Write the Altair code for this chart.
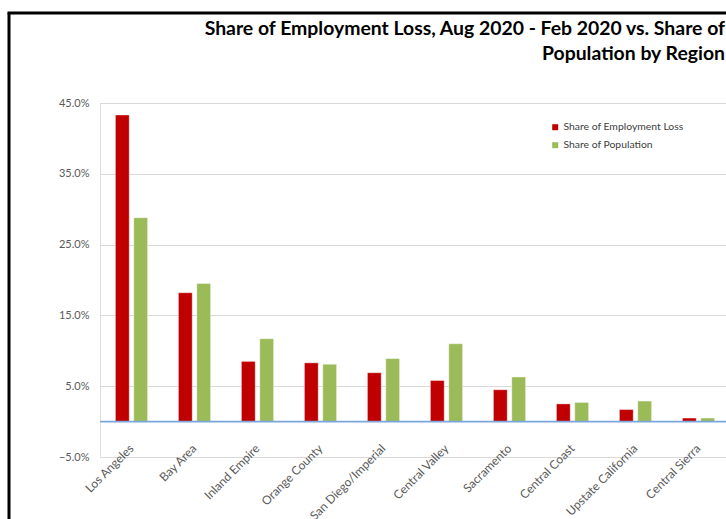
import altair as alt
import pandas as pd

regions = ["Los Angeles", "Bay Area", "Inland Empire", "Orange County", "San Diego/Imperial",
           "Central Valley", "Sacramento", "Central Coast", "Upstate California", "Central Sierra"]
emp_loss = [43.3, 18.2, 8.5, 8.3, 6.9, 5.8, 4.5, 2.5, 1.7, 0.5]
population = [28.8, 19.5, 11.7, 8.1, 8.9, 11.0, 6.3, 2.7, 2.9, 0.5]
series = ["Share of Employment Loss", "Share of Population"]
y_ticks = [-5, 5, 15, 25, 35, 45]

rows = []
for r, a, b in zip(regions, emp_loss, population):
    rows.append({"region": r, "series": series[0], "value": a})
    rows.append({"region": r, "series": series[1], "value": b})
df = pd.DataFrame(rows)

FONT = "Lato"

bars = alt.Chart(df).mark_bar(stroke="#ffffff", strokeWidth=0.6, strokeOpacity=0.6).encode(
    x=alt.X("region:N", sort=regions, title=None,
            scale=alt.Scale(range=[0, 630], paddingInner=0.49, paddingOuter=0.245),
            axis=alt.Axis(labelAngle=-45, labelAlign="right", labelBaseline="middle",
                          labelPadding=24, offset=-35, domain=False, ticks=False,
                          labelFontSize=12, labelColor="#595959", labelFont=FONT)),
    xOffset=alt.XOffset("series:N", sort=series,
                        scale=alt.Scale(paddingInner=0.25, paddingOuter=0)),
    y=alt.Y("value:Q", title=None,
            scale=alt.Scale(domain=[-5, 45], nice=False, zero=False),
            axis=alt.Axis(values=y_ticks, labelExpr="format(datum.value, '.1f') + '%'",
                          domain=False, ticks=False, labelPadding=11,
                          labelFontSize=11, labelColor="#595959", labelFont=FONT,
                          grid=True, gridColor="#d9d9d9", gridWidth=1)),
    color=alt.Color("series:N", sort=series,
                    scale=alt.Scale(domain=series, range=["#c00000", "#9bbb59"]),
                    legend=alt.Legend(title=None, orient="none", legendX=450, legendY=19,
                                      symbolType="square", symbolSize=36, symbolStrokeWidth=0,
                                      labelFontSize=10.4, labelColor="#404040", labelFont=FONT,
                                      rowPadding=7, labelOffset=3)),
)

zero = alt.Chart(pd.DataFrame({"z": [0]})).mark_rule(color="#7aa6dc", strokeWidth=1.6).encode(
    y="z:Q"
)

border_left = alt.Chart(pd.DataFrame({"a": [0]})).mark_rule(color="#000000", strokeWidth=3).encode(
    x=alt.value(-91), y=alt.value(-90), y2=alt.value(420)
)
border_top = alt.Chart(pd.DataFrame({"a": [0]})).mark_rule(color="#000000", strokeWidth=3).encode(
    x=alt.value(-92.5), x2=alt.value(700), y=alt.value(-90)
)

chart = alt.layer(bars, zero, border_left, border_top).properties(
    width=626, height=354,
    autosize=alt.AutoSizeParams(type="none"),
    padding={"left": 100, "top": 103, "right": 0, "bottom": 62},
    title=alt.TitleParams(
        ["Share of Employment Loss, Aug 2020 - Feb 2020 vs. Share of", "Population by Region"],
        anchor="end", frame="group", font=FONT, fontSize=19.4, fontWeight="bold",
        color="#000000", offset=-53, dx=-1, lineHeight=25),
).configure_view(stroke=None).configure(background="#ffffff")

chart.save("out.html", embed_options={"renderer": "svg", "actions": False})
